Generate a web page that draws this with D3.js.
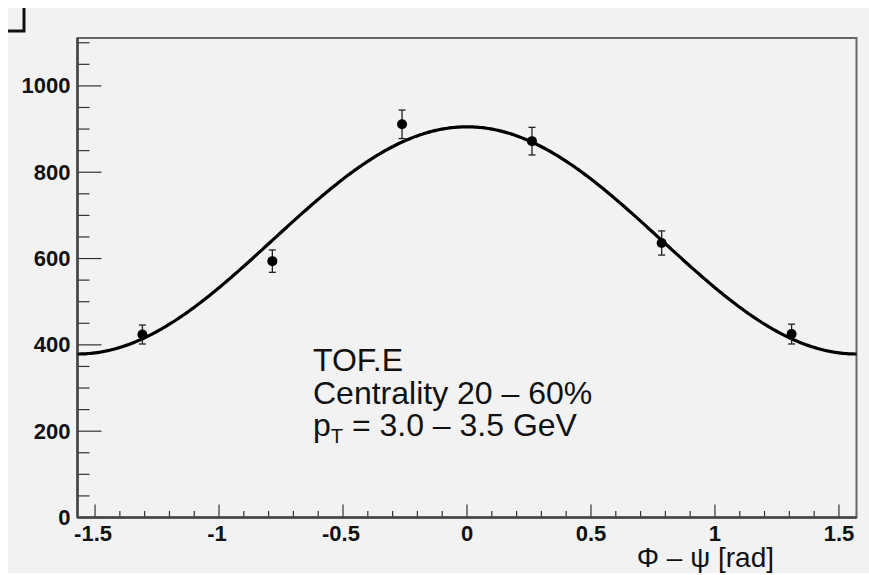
<!DOCTYPE html>
<html>
<head>
<meta charset="utf-8">
<script src="https://cdn.jsdelivr.net/npm/d3@7"></script>
<style>
  body { margin: 0; background: #fff; }
  svg { display: block; }
</style>
</head>
<body>
<svg width="869" height="575"></svg>
<script>
// measured points (phi - psi bins)
var phi = [-1.309, -0.785, -0.262, 0.262, 0.785, 1.309];
var counts = [424, 594, 911, 872, 636, 425];
var errors = [22, 26, 33, 32, 28, 23];

// fit: A * (1 + 2 v2 cos(2x))
var fitA = 642;
var fitV2 = 0.205;

var yMajor = [0, 200, 400, 600, 800, 1000];
var yMajorLabels = ["0", "200", "400", "600", "800", "1000"];
var xMajor = [-1.5, -1, -0.5, 0, 0.5, 1, 1.5];
var xMajorLabels = ["-1.5", "-1", "-0.5", "0", "0.5", "1", "1.5"];

var svg = d3.select("svg");
var padL = 77.5, padR = 856.5, padT = 38, padB = 517.5;

svg.append("rect")
    .attr("x", 8).attr("y", 8)
    .attr("width", 861).attr("height", 565)
    .attr("fill", "#f2f2f2");

// corner of a neighbouring pad
svg.append("path")
    .attr("d", "M8,31 L24,31 L24,8")
    .attr("fill", "none")
    .attr("stroke", "#111")
    .attr("stroke-width", 3);

var x = d3.scaleLinear().domain([-Math.PI / 2, Math.PI / 2]).range([padL, padR]);
var y = d3.scaleLinear().domain([0, 1111]).range([padB, padT]);

// frame
svg.append("rect")
    .attr("x", padL).attr("y", padT)
    .attr("width", padR - padL).attr("height", padB - padT)
    .attr("fill", "none")
    .attr("stroke", "#666")
    .attr("stroke-width", 2);

// x axis ticks (inside)
var xMinor = d3.range(-15, 16).map(function (i) { return i / 10; });
svg.append("g").selectAll("line")
    .data(xMinor)
    .enter().append("line")
    .attr("x1", function (d) { return x(d); })
    .attr("x2", function (d) { return x(d); })
    .attr("y1", padB)
    .attr("y2", function (d, i) { return (i % 5 === 0) ? padB - 13 : padB - 6.5; })
    .attr("stroke", "#333")
    .attr("stroke-width", 1.2);

svg.append("g").selectAll("text")
    .data(xMajor)
    .enter().append("text")
    .attr("x", function (d) { return x(d) - (d < 0 ? 2 : 0); })
    .attr("y", 540.5)
    .attr("text-anchor", "middle")
    .attr("font-family", "Liberation Sans, Arial, sans-serif")
    .attr("font-weight", "bold")
    .attr("font-size", 22)
    .attr("fill", "#111")
    .text(function (d, i) { return xMajorLabels[i]; });

// y axis ticks (inside)
var yMinor = d3.range(0, 1101, 50);
svg.append("g").selectAll("line")
    .data(yMinor)
    .enter().append("line")
    .attr("x1", padL)
    .attr("x2", function (d) { return (d % 200 === 0) ? padL + 24 : padL + 12; })
    .attr("y1", function (d) { return y(d); })
    .attr("y2", function (d) { return y(d); })
    .attr("stroke", "#333")
    .attr("stroke-width", 1.2);

svg.append("g").selectAll("text")
    .data(yMajor)
    .enter().append("text")
    .attr("x", 70.5)
    .attr("y", function (d) { return y(d) + 7.5; })
    .attr("text-anchor", "end")
    .attr("font-family", "Liberation Sans, Arial, sans-serif")
    .attr("font-weight", "bold")
    .attr("font-size", 22)
    .attr("fill", "#111")
    .text(function (d, i) { return yMajorLabels[i]; });

// axis lines drawn over frame
svg.append("line")
    .attr("x1", padL).attr("x2", padR)
    .attr("y1", padB).attr("y2", padB)
    .attr("stroke", "#444").attr("stroke-width", 2.5);
svg.append("line")
    .attr("x1", padL).attr("x2", padL)
    .attr("y1", padT).attr("y2", padB)
    .attr("stroke", "#444").attr("stroke-width", 2.5);

// axis title
svg.append("text")
    .attr("x", 774)
    .attr("y", 567)
    .attr("text-anchor", "end")
    .attr("font-family", "Liberation Sans, Arial, sans-serif")
    .attr("font-size", 28)
    .attr("fill", "#111")
    .text("\u03A6 \u2013 \u03C8 [rad]");

// fit curve
var fitX = d3.range(0, 401).map(function (i) { return -Math.PI / 2 + Math.PI * i / 400; });
var line = d3.line()
    .x(function (d) { return x(d); })
    .y(function (d) { return y(fitA * (1 + 2 * fitV2 * Math.cos(2 * d))); });
svg.append("path")
    .datum(fitX)
    .attr("d", line)
    .attr("fill", "none")
    .attr("stroke", "#000")
    .attr("stroke-width", 3.2);

// error bars and points
var pts = phi.map(function (p, i) { return {x: p, y: counts[i], e: errors[i]}; });
var g = svg.append("g");
g.selectAll("line.err")
    .data(pts)
    .enter().append("line")
    .attr("class", "err")
    .attr("x1", function (d) { return x(d.x); })
    .attr("x2", function (d) { return x(d.x); })
    .attr("y1", function (d) { return y(d.y - d.e); })
    .attr("y2", function (d) { return y(d.y + d.e); })
    .attr("stroke", "#222").attr("stroke-width", 1.3);
[-1, 1].forEach(function (s) {
    g.selectAll(null)
        .data(pts)
        .enter().append("line")
        .attr("x1", function (d) { return x(d.x) - 3.5; })
        .attr("x2", function (d) { return x(d.x) + 3.5; })
        .attr("y1", function (d) { return y(d.y + s * d.e); })
        .attr("y2", function (d) { return y(d.y + s * d.e); })
        .attr("stroke", "#222").attr("stroke-width", 1.3);
});
g.selectAll("circle")
    .data(pts)
    .enter().append("circle")
    .attr("cx", function (d) { return x(d.x); })
    .attr("cy", function (d) { return y(d.y); })
    .attr("r", 5)
    .attr("fill", "#000");

// label block
var lab = svg.append("text")
    .attr("font-family", "Liberation Sans, Arial, sans-serif")
    .attr("font-size", 32)
    .attr("fill", "#111");
lab.append("tspan").attr("x", 313).attr("y", 371).text("TOF.E");
lab.append("tspan").attr("x", 313).attr("y", 403.5).text("Centrality 20 \u2013 60%");
lab.append("tspan").attr("x", 313).attr("y", 436).text("p");
lab.append("tspan").attr("dy", 7).attr("font-size", 20).text("T");
lab.append("tspan").attr("dy", -7).text(" = 3.0 \u2013 3.5 GeV");
</script>
</body>
</html>
